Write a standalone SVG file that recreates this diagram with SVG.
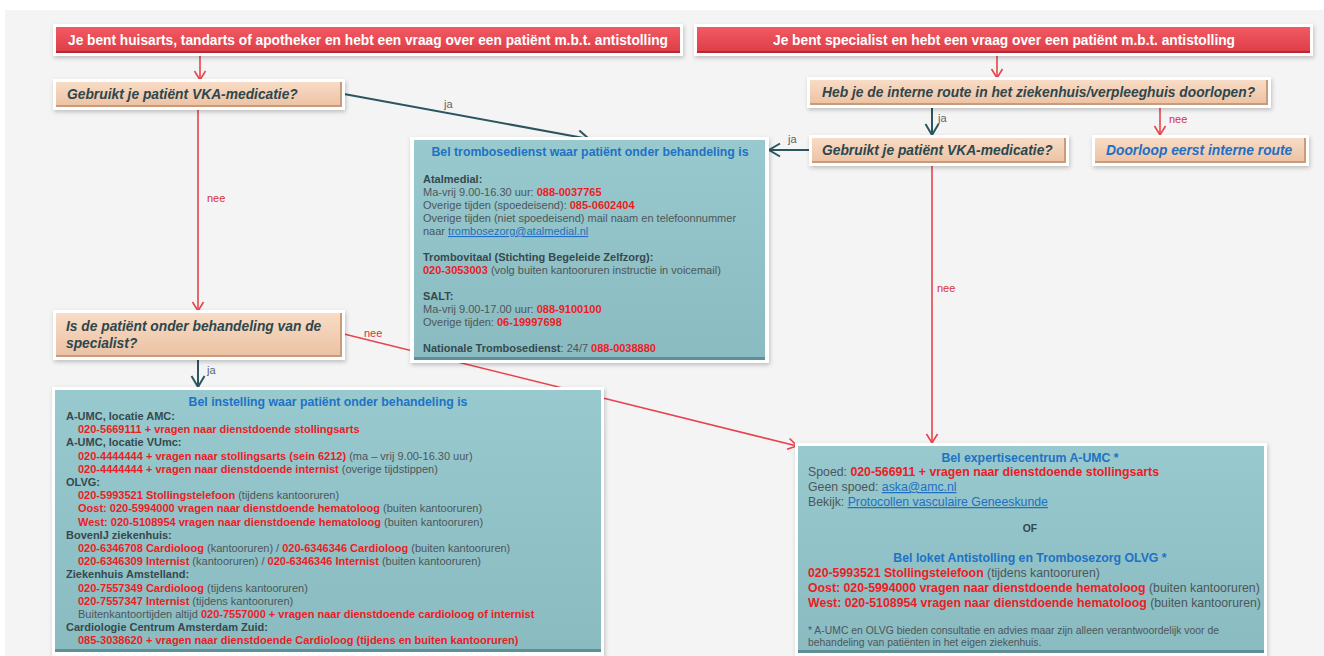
<svg xmlns="http://www.w3.org/2000/svg" width="1324" height="656" viewBox="0 0 1324 656">
<defs>
<filter id="sh" x="-10%" y="-20%" width="120%" height="150%">
<feDropShadow dx="1" dy="2" stdDeviation="2" flood-color="#000" flood-opacity="0.22"/>
</filter>
<linearGradient id="gRed" x1="0" y1="0" x2="0" y2="1">
<stop offset="0" stop-color="#f25a63"/><stop offset="1" stop-color="#dc3d47"/>
</linearGradient>
<linearGradient id="gTan" x1="0" y1="0" x2="0" y2="1">
<stop offset="0" stop-color="#f8dcc6"/><stop offset="1" stop-color="#ecc1a2"/>
</linearGradient>
<linearGradient id="gTeal" x1="0" y1="0" x2="0" y2="1">
<stop offset="0" stop-color="#97c9ce"/><stop offset="1" stop-color="#89bbc1"/>
</linearGradient>
<marker id="aR" markerUnits="userSpaceOnUse" markerWidth="12" markerHeight="14" refX="10" refY="7" orient="auto">
<path d="M1,1.5 L10,7 L1,12.5" fill="none" stroke="#e8434c" stroke-width="1.6"/>
</marker>
<marker id="aT" markerUnits="userSpaceOnUse" markerWidth="14" markerHeight="16" refX="12" refY="8" orient="auto">
<path d="M1,1.5 L12,8 L1,14.5" fill="none" stroke="#2b5660" stroke-width="2"/>
</marker>
</defs>
<style>
.frame{fill:#fff;filter:url(#sh)}
.red{fill:url(#gRed)}
.redb{fill:#b52b34}
.tan{fill:url(#gTan)}
.tanb{fill:#c79b7b}
.teal{fill:url(#gTeal)}
.tealb{fill:#5f8f96}
.h{font-family:"Liberation Sans Narrow","Liberation Sans",Arial,sans-serif;font-weight:bold;font-size:15px;fill:#fff}
.q{font-family:"Liberation Sans",Arial,sans-serif;font-style:italic;font-weight:bold;font-size:13.8px;fill:#2c474e}
.qb{fill:#1e6fc4}
.t{font-family:"Liberation Sans",Arial,sans-serif;font-size:11px;fill:#4f5659}
.t12{font-size:12.3px}
.tt{font-size:12.3px}
.fn{font-size:10.4px}
.b{font-weight:bold;fill:#36494e}
.r{font-weight:bold;fill:#ec1c24}
.ti{font-weight:bold;fill:#1f72c3}
.lnk{fill:#1f6fc2;text-decoration:underline}
.lr{stroke:#e8434c;stroke-width:1.6;fill:none;marker-end:url(#aR)}
.lt{stroke:#2b5660;stroke-width:2;fill:none;marker-end:url(#aT)}
.lab{font-family:"Liberation Sans",Arial,sans-serif;font-size:11px}
.ja{fill:#59666b}
.nee{fill:#d8313b}
</style>
<rect x="0" y="0" width="1324" height="656" fill="#fff"/>
<rect x="5" y="10" width="1319" height="646" fill="#f4f4f4"/>

<g id="connectors">
<line class="lr" x1="200" y1="56" x2="200" y2="80"/>
<line class="lr" x1="198" y1="110" x2="198" y2="311"/>
<text class="lab nee" x="207" y="202">nee</text>
<line class="lt" x1="344" y1="94" x2="589" y2="139"/>
<text class="lab ja" x="444" y="108">ja</text>
<line class="lr" x1="997" y1="56" x2="997" y2="78"/>
<line class="lt" x1="932" y1="108" x2="932" y2="135"/>
<text class="lab ja" x="938" y="122">ja</text>
<line class="lr" x1="1160" y1="108" x2="1160" y2="135"/>
<text class="lab nee" x="1169" y="123">nee</text>
<line class="lt" x1="810" y1="150" x2="769" y2="150"/>
<text class="lab ja" x="788" y="143">ja</text>
<line class="lr" x1="932" y1="165" x2="932" y2="443"/>
<text class="lab nee" x="937" y="292">nee</text>
<line class="lt" x1="198" y1="360" x2="198" y2="387"/>
<text class="lab ja" x="207" y="374">ja</text>
<line class="lr" x1="344" y1="334" x2="797" y2="446"/>
<text class="lab nee" x="364" y="337">nee</text>
</g>

<g id="header-huisarts">
<rect class="frame" x="53" y="24" width="630" height="32"/>
<rect class="red" x="56" y="27" width="624" height="26"/>
<rect class="redb" x="56" y="51" width="624" height="2"/>
<text class="h" x="368" y="45" text-anchor="middle" textLength="600" lengthAdjust="spacingAndGlyphs">Je bent huisarts, tandarts of apotheker en hebt een vraag over een patiënt m.b.t. antistolling</text>
</g>

<g id="header-specialist">
<rect class="frame" x="694" y="24" width="619" height="32"/>
<rect class="red" x="697" y="27" width="613" height="26"/>
<rect class="redb" x="697" y="51" width="613" height="2"/>
<text class="h" x="1004" y="45" text-anchor="middle" textLength="462" lengthAdjust="spacingAndGlyphs">Je bent specialist en hebt een vraag over een patiënt m.b.t. antistolling</text>
</g>

<g id="q-vka-left">
<rect class="frame" x="53" y="79" width="292" height="31"/>
<rect class="tan" x="56" y="82" width="286" height="25"/>
<rect class="tanb" x="56" y="105" width="286" height="2"/>
<rect class="tanb" x="340" y="82" width="2" height="25"/>
<text class="q" x="67" y="99">Gebruikt je patiënt VKA-medicatie?</text>
</g>

<g id="q-interne-route">
<rect class="frame" x="807" y="77" width="464" height="31"/>
<rect class="tan" x="810" y="80" width="458" height="25"/>
<rect class="tanb" x="810" y="103" width="458" height="2"/>
<rect class="tanb" x="1266" y="80" width="2" height="25"/>
<text class="q" x="822" y="97">Heb je de interne route in het ziekenhuis/verpleeghuis doorlopen?</text>
</g>

<g id="q-vka-right">
<rect class="frame" x="809" y="135" width="260" height="31"/>
<rect class="tan" x="812" y="138" width="254" height="25"/>
<rect class="tanb" x="812" y="161" width="254" height="2"/>
<rect class="tanb" x="1064" y="138" width="2" height="25"/>
<text class="q" x="822" y="155">Gebruikt je patiënt VKA-medicatie?</text>
</g>

<g id="doorloop">
<rect class="frame" x="1092" y="135" width="217" height="31"/>
<rect class="tan" x="1095" y="138" width="211" height="25"/>
<rect class="tanb" x="1095" y="161" width="211" height="2"/>
<rect class="tanb" x="1304" y="138" width="2" height="25"/>
<text class="q qb" x="1106" y="155">Doorloop eerst interne route</text>
</g>

<g id="q-specialist">
<rect class="frame" x="53" y="310" width="292" height="50"/>
<rect class="tan" x="56" y="313" width="286" height="44"/>
<rect class="tanb" x="56" y="355" width="286" height="2"/>
<rect class="tanb" x="340" y="313" width="2" height="44"/>
<text class="q" x="66" y="331">Is de patiënt onder behandeling van de</text>
<text class="q" x="66" y="348">specialist?</text>
</g>

<g id="trombosedienst">
<rect class="frame" x="410" y="137" width="359" height="226"/>
<rect class="teal" x="414" y="140" width="351" height="220"/>
<rect class="tealb" x="414" y="357" width="351" height="3"/>
<text class="t ti tt" x="590" y="156" text-anchor="middle">Bel trombosedienst waar patiënt onder behandeling is</text>
<text class="t" x="423" y="183"><tspan class="b">Atalmedial:</tspan></text>
<text class="t" x="423" y="196">Ma-vrij 9.00-16.30 uur: <tspan class="r">088-0037765</tspan></text>
<text class="t" x="423" y="209">Overige tijden (spoedeisend): <tspan class="r">085-0602404</tspan></text>
<text class="t" x="423" y="222">Overige tijden (niet spoedeisend) mail naam en telefoonnummer</text>
<text class="t" x="423" y="235">naar <tspan class="lnk">trombosezorg@atalmedial.nl</tspan></text>
<text class="t" x="423" y="261"><tspan class="b">Trombovitaal (Stichting Begeleide Zelfzorg):</tspan></text>
<text class="t" x="423" y="274"><tspan class="r">020-3053003</tspan> (volg buiten kantooruren instructie in voicemail)</text>
<text class="t" x="423" y="300"><tspan class="b">SALT:</tspan></text>
<text class="t" x="423" y="313">Ma-vrij 9.00-17.00 uur: <tspan class="r">088-9100100</tspan></text>
<text class="t" x="423" y="326">Overige tijden: <tspan class="r">06-19997698</tspan></text>
<text class="t" x="423" y="352"><tspan class="b">Nationale Trombosedienst</tspan>: 24/7 <tspan class="r">088-0038880</tspan></text>
</g>

<g id="instelling">
<rect class="frame" x="52" y="387" width="552" height="272"/>
<rect class="teal" x="55" y="390" width="546" height="262"/>
<rect class="tealb" x="55" y="649" width="546" height="3"/>
<text class="t ti tt" x="328" y="406" text-anchor="middle">Bel instelling waar patiënt onder behandeling is</text>
<text class="t" x="66" y="420"><tspan class="b">A-UMC, locatie AMC:</tspan></text>
<text class="t" x="78" y="433.2"><tspan class="r">020-5669111 + vragen naar dienstdoende stollingsarts</tspan></text>
<text class="t" x="66" y="446.4"><tspan class="b">A-UMC, locatie VUmc:</tspan></text>
<text class="t" x="78" y="459.6"><tspan class="r">020-4444444 + vragen naar stollingsarts (sein 6212)</tspan> (ma – vrij 9.00-16.30 uur)</text>
<text class="t" x="78" y="472.8"><tspan class="r">020-4444444 + vragen naar dienstdoende internist</tspan> (overige tijdstippen)</text>
<text class="t" x="66" y="486"><tspan class="b">OLVG:</tspan></text>
<text class="t" x="78" y="499.2"><tspan class="r">020-5993521 Stollingstelefoon</tspan> (tijdens kantooruren)</text>
<text class="t" x="78" y="512.4"><tspan class="r">Oost: 020-5994000 vragen naar dienstdoende hematoloog</tspan> (buiten kantooruren)</text>
<text class="t" x="78" y="525.6"><tspan class="r">West: 020-5108954 vragen naar dienstdoende hematoloog</tspan> (buiten kantooruren)</text>
<text class="t" x="66" y="538.8"><tspan class="b">BovenIJ ziekenhuis:</tspan></text>
<text class="t" x="78" y="552"><tspan class="r">020-6346708 Cardioloog</tspan> (kantooruren) / <tspan class="r">020-6346346 Cardioloog</tspan> (buiten kantooruren)</text>
<text class="t" x="78" y="565.2"><tspan class="r">020-6346309 Internist</tspan> (kantooruren) / <tspan class="r">020-6346346 Internist</tspan> (buiten kantooruren)</text>
<text class="t" x="66" y="578.4"><tspan class="b">Ziekenhuis Amstelland:</tspan></text>
<text class="t" x="78" y="591.6"><tspan class="r">020-7557349 Cardioloog</tspan> (tijdens kantooruren)</text>
<text class="t" x="78" y="604.8"><tspan class="r">020-7557347 Internist</tspan> (tijdens kantooruren)</text>
<text class="t" x="78" y="618">Buitenkantoortijden altijd <tspan class="r">020-7557000 + vragen naar dienstdoende cardioloog of internist</tspan></text>
<text class="t" x="66" y="631.2"><tspan class="b">Cardiologie Centrum Amsterdam Zuid:</tspan></text>
<text class="t" x="78" y="644.4"><tspan class="r">085-3038620 + vragen naar dienstdoende Cardioloog (tijdens en buiten kantooruren)</tspan></text>
</g>

<g id="expertisecentrum">
<rect class="frame" x="795" y="443" width="472" height="216"/>
<rect class="teal" x="798" y="446" width="466" height="207"/>
<rect class="tealb" x="798" y="650" width="466" height="3"/>
<text class="t t12 ti" x="1030" y="462" text-anchor="middle">Bel expertisecentrum A-UMC *</text>
<text class="t t12" x="808" y="476">Spoed: <tspan class="r">020-566911 + vragen naar dienstdoende stollingsarts</tspan></text>
<text class="t t12" x="808" y="491">Geen spoed: <tspan class="lnk">aska@amc.nl</tspan></text>
<text class="t t12" x="808" y="506">Bekijk: <tspan class="lnk">Protocollen vasculaire Geneeskunde</tspan></text>
<text class="t fn b" x="1030" y="532" text-anchor="middle">OF</text>
<text class="t t12 ti" x="1030" y="562" text-anchor="middle">Bel loket Antistolling en Trombosezorg OLVG *</text>
<text class="t t12" x="808" y="577"><tspan class="r">020-5993521 Stollingstelefoon</tspan> (tijdens kantooruren)</text>
<text class="t t12" x="808" y="592"><tspan class="r">Oost: 020-5994000 vragen naar dienstdoende hematoloog</tspan> (buiten kantooruren)</text>
<text class="t t12" x="808" y="607"><tspan class="r">West: 020-5108954 vragen naar dienstdoende hematoloog</tspan> (buiten kantooruren)</text>
<text class="t fn" x="808" y="634">* A-UMC en OLVG bieden consultatie en advies maar zijn alleen verantwoordelijk voor de</text>
<text class="t fn" x="808" y="646">behandeling van patiënten in het eigen ziekenhuis.</text>
</g>
</svg>
